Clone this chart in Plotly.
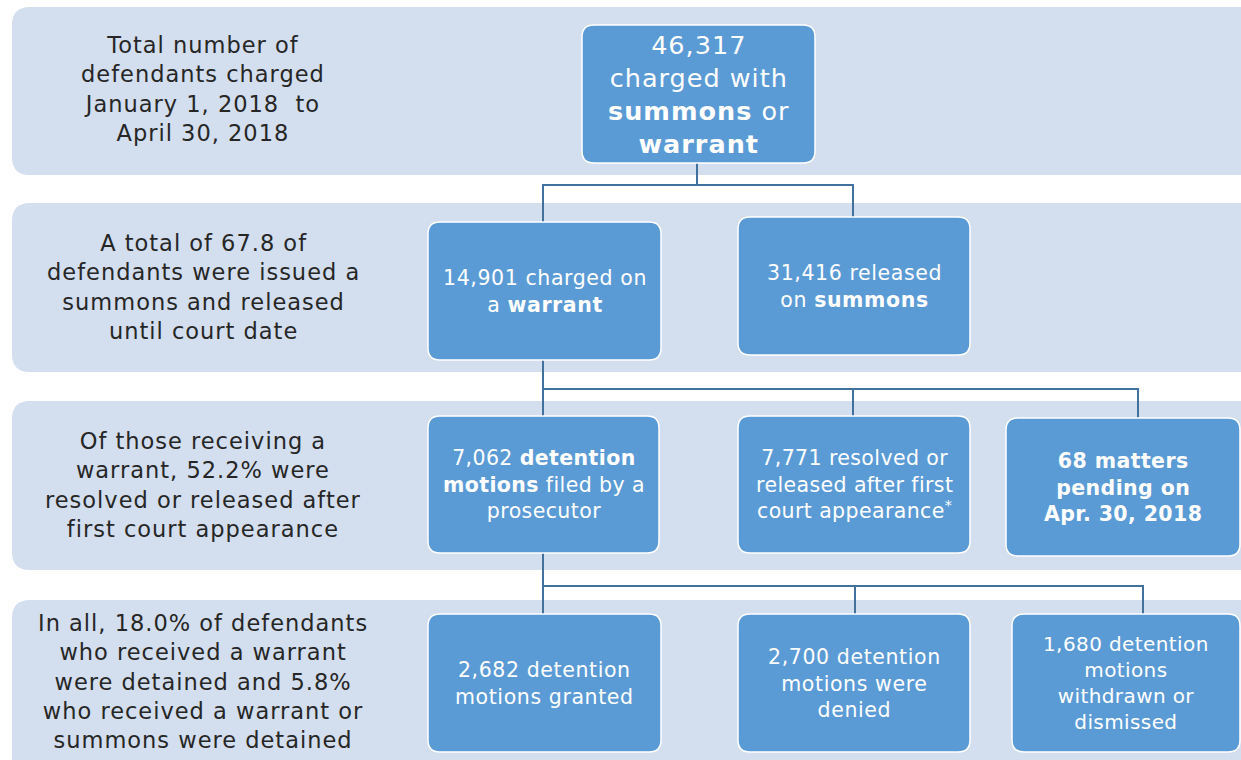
import plotly.graph_objects as go

# ---------------- data ----------------
total_charged = 46317
branch_counts = [14901, 31416]          # warrant, summons
outcome_counts = [7062, 7771, 68]       # motions filed, resolved/released, pending
motion_counts = [2682, 2700, 1680]      # granted, denied, withdrawn/dismissed

row_notes = [
    "Total number of<br>defendants charged<br>January 1, 2018  to<br>April 30, 2018",
    "A total of 67.8 of<br>defendants were issued a<br>summons and released<br>until court date",
    "Of those receiving a<br>warrant, 52.2% were<br>resolved or released after<br>first court appearance",
    "In all, 18.0% of defendants<br>who received a warrant<br>were detained and 5.8%<br>who received a warrant or<br>summons were detained",
]

box_labels = [
    f"{total_charged:,}<br>charged with<br><b>summons</b> or<br><b>warrant</b>",
    f"{branch_counts[0]:,} charged on<br>a <b>warrant</b>",
    f"{branch_counts[1]:,} released<br>on <b>summons</b>",
    f"{outcome_counts[0]:,} <b>detention</b><br><b>motions</b> filed by a<br>prosecutor",
    f"{outcome_counts[1]:,} resolved or<br>released after first<br>court appearance<sup>*</sup>",
    f"<b>{outcome_counts[2]:,} matters</b><br><b>pending on</b><br><b>Apr. 30, 2018</b>",
    f"{motion_counts[0]:,} detention<br>motions granted",
    f"{motion_counts[1]:,} detention<br>motions were<br>denied",
    f"{motion_counts[2]:,} detention<br>motions<br>withdrawn or<br>dismissed",
]

# ---------------- layout geometry (pixels) ----------------
W, H = 1241, 760
BAND_C = "#D3DEEE"
BOX_C = "#5B9BD5"
LINE_C = "#41719C"
TEXT_C = "#262626"
FONT = "DejaVu Sans, sans-serif"

bands = [(12, 7, 175), (12, 203, 372), (12, 401, 570), (12, 600, 790)]
note_y = [89, 287, 485, 681]
note_x = 203

boxes = [
    (582, 815, 25, 163),
    (428, 661, 222, 360), (738, 970, 217, 355),
    (428, 659, 416, 553), (738, 970, 416, 553), (1006, 1240, 418, 556),
    (428, 661, 614, 752), (738, 970, 614, 752), (1012, 1240, 614, 752),
]
box_font = [25.5, 20.5, 20.5, 20.5, 20.5, 20.5, 20.5, 20.5, 20]
box_ls = [1, 0.6, 0.6, 0.4, 0.4, 0.4, 0.6, 0.6, 0.4]


def spaced(text, ls):
    lines = text.split("<br>")
    return "<br>".join(f"<span style='letter-spacing:{ls}px'>{ln}</span>" for ln in lines)


def rrect(x0, x1, y0, y1, r, right_round=True):
    rr = r if right_round else 0
    p = f"M {x0 + r},{y0} L {x1 - rr},{y0} "
    if rr:
        p += f"Q {x1},{y0} {x1},{y0 + rr} "
    p += f"L {x1},{y1 - rr} "
    if rr:
        p += f"Q {x1},{y1} {x1 - rr},{y1} "
    p += f"L {x0 + r},{y1} Q {x0},{y1} {x0},{y1 - r} L {x0},{y0 + r} Q {x0},{y0} {x0 + r},{y0} Z"
    return p


shapes = []
for (bx, by0, by1) in bands:
    shapes.append(dict(type="path", path=rrect(bx, W + 20, by0, by1, 18, right_round=False),
                       fillcolor=BAND_C, line=dict(width=0), xref="x", yref="y", layer="below"))

connectors = [
    "M 543,222 L 543,185 L 853,185 L 853,217 M 697,163 L 697,185",
    "M 543,360 L 543,416 M 543,389 L 1138,389 L 1138,418 M 853,389 L 853,416",
    "M 543,553 L 543,614 M 543,586 L 1143,586 L 1143,614 M 855,586 L 855,614",
]
for c in connectors:
    shapes.append(dict(type="path", path=c, line=dict(color=LINE_C, width=2),
                       xref="x", yref="y", layer="above"))

for (x0, x1, y0, y1) in boxes:
    shapes.append(dict(type="path", path=rrect(x0, x1, y0, y1, 12),
                       fillcolor=BOX_C, line=dict(color="white", width=1.5),
                       xref="x", yref="y", layer="above"))

annotations = []
for t, y in zip(row_notes, note_y):
    annotations.append(dict(x=note_x, y=y, xref="x", yref="y", text=spaced(t, 1), showarrow=False,
                            align="center", xanchor="center", yanchor="middle",
                            font=dict(family=FONT, size=22.5, color=TEXT_C)))

for t, (x0, x1, y0, y1), fs, ls in zip(box_labels, boxes, box_font, box_ls):
    annotations.append(dict(x=(x0 + x1) / 2, y=(y0 + y1) / 2, xref="x", yref="y", text=spaced(t, ls),
                            showarrow=False, align="center", xanchor="center", yanchor="middle",
                            font=dict(family=FONT, size=fs, color="white")))

fig = go.Figure()
fig.add_trace(go.Scatter(x=[0, W], y=[0, H], mode="markers", marker=dict(opacity=0),
                         hoverinfo="skip", showlegend=False))
fig.update_layout(
    width=W, height=H, autosize=False,
    margin=dict(l=0, r=0, t=0, b=0),
    paper_bgcolor="white", plot_bgcolor="white",
    xaxis=dict(range=[0, W], visible=False, fixedrange=True),
    yaxis=dict(range=[H, 0], visible=False, fixedrange=True),
    shapes=shapes, annotations=annotations, showlegend=False,
)
fig.write_html("out.html", config={"displayModeBar": False},
               post_script="document.body.style.margin='0';")
